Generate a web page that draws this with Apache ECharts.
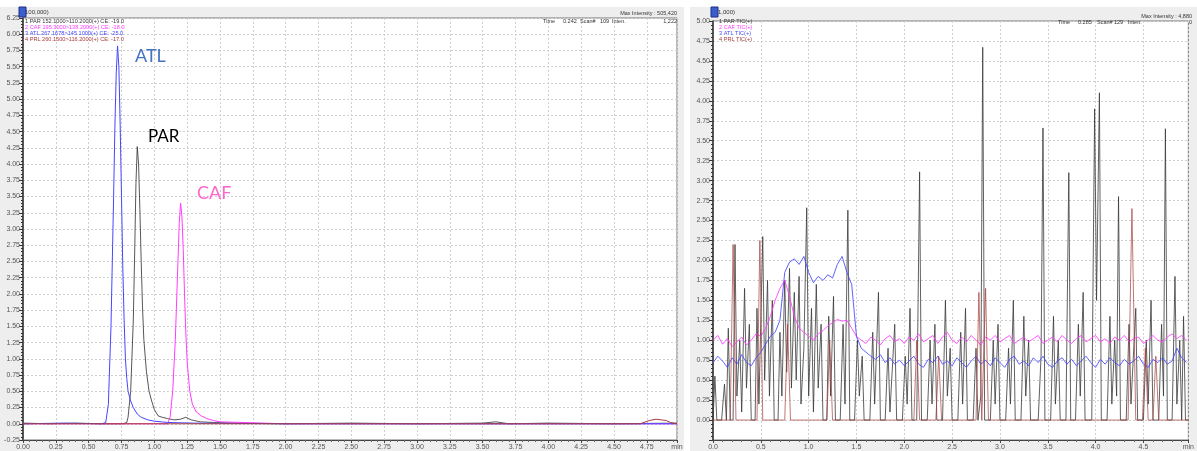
<!DOCTYPE html>
<html>
<head>
<meta charset="utf-8">
<script src="https://cdn.jsdelivr.net/npm/echarts@6/dist/echarts.min.js"></script>
<style>
  html, body { margin: 0; padding: 0; background: #fff; }
  #chart { width: 1197px; height: 451px; }
</style>
</head>
<body>
<div id="chart"></div>
<script>
// ---- MRM chromatogram (left), x100,000 ----
const mrmParT = [0, 0.2, 0.4, 0.6, 0.76, 0.79, 0.8, 0.82, 0.84, 0.85, 0.86, 0.87, 0.88, 0.89, 0.9, 0.91, 0.92, 0.94, 0.96, 0.98, 1.0, 1.03, 1.06, 1.1, 1.15, 1.2, 1.24, 1.28, 1.35, 1.45, 1.6, 2.0, 2.5, 3.0, 3.5, 3.6, 3.7, 4.0, 4.5, 4.98];
const mrmParV = [0.01, 0.0, 0.01, 0.0, 0.0, 0.02, 0.1, 0.5, 1.6, 2.6, 3.7, 4.27, 4.0, 3.3, 2.5, 1.8, 1.3, 0.8, 0.5, 0.35, 0.22, 0.12, 0.1, 0.08, 0.06, 0.07, 0.1, 0.06, 0.03, 0.02, 0.01, 0.0, 0.01, 0.0, 0.01, 0.03, 0.0, 0.01, 0.0, 0.01];
const mrmCafT = [0, 0.5, 1.0, 1.1, 1.12, 1.14, 1.16, 1.18, 1.19, 1.2, 1.21, 1.22, 1.23, 1.24, 1.25, 1.27, 1.29, 1.32, 1.36, 1.4, 1.45, 1.5, 2.0, 3.0, 4.0, 4.98];
const mrmCafV = [0.0, 0.0, 0.0, 0.0, 0.1, 0.5, 1.3, 2.5, 3.1, 3.4, 3.2, 2.7, 2.0, 1.4, 0.95, 0.5, 0.3, 0.18, 0.12, 0.08, 0.05, 0.03, 0.0, 0.0, 0.0, 0.0];
const mrmAtlT = [0, 0.3, 0.6, 0.63, 0.65, 0.67, 0.69, 0.7, 0.71, 0.72, 0.73, 0.74, 0.75, 0.76, 0.77, 0.78, 0.79, 0.8, 0.82, 0.84, 0.87, 0.9, 0.95, 1.0, 1.1, 1.3, 2.0, 3.0, 4.0, 4.98];
const mrmAtlV = [0.0, 0.01, 0.0, 0.02, 0.3, 1.5, 3.5, 4.6, 5.4, 5.82, 5.5, 4.6, 3.5, 2.4, 1.6, 1.0, 0.7, 0.5, 0.35, 0.25, 0.15, 0.1, 0.06, 0.04, 0.02, 0.01, 0.0, 0.0, 0.0, 0.0];
const mrmPrlT = [0, 0.5, 1.0, 2.0, 3.0, 4.0, 4.7, 4.77, 4.82, 4.86, 4.9, 4.93, 4.98];
const mrmPrlV = [0.0, 0.0, 0.0, 0.0, 0.0, 0.0, 0.0, 0.05, 0.07, 0.06, 0.05, 0.02, 0.0];

// ---- TIC traces (right), x1,000 ----
const ticParT = [0, 0.02, 0.04, 0.09, 0.12, 0.14, 0.16, 0.18, 0.21, 0.23, 0.25, 0.28, 0.3, 0.33, 0.35, 0.38, 0.4, 0.44, 0.46, 0.48, 0.52, 0.54, 0.57, 0.59, 0.62, 0.64, 0.68, 0.7, 0.72, 0.75, 0.77, 0.8, 0.82, 0.85, 0.87, 0.9, 0.92, 0.95, 0.98, 1.0, 1.03, 1.05, 1.08, 1.1, 1.13, 1.15, 1.19, 1.21, 1.23, 1.26, 1.28, 1.33, 1.36, 1.38, 1.41, 1.43, 1.48, 1.51, 1.53, 1.56, 1.58, 1.64, 1.67, 1.69, 1.73, 1.75, 1.8, 1.83, 1.85, 1.9, 1.92, 1.98, 2.01, 2.03, 2.06, 2.08, 2.13, 2.16, 2.18, 2.24, 2.27, 2.29, 2.32, 2.34, 2.4, 2.43, 2.45, 2.48, 2.5, 2.56, 2.59, 2.61, 2.64, 2.66, 2.72, 2.75, 2.77, 2.8, 2.82, 2.84, 2.9, 2.93, 2.95, 2.98, 3.0, 3.06, 3.09, 3.11, 3.14, 3.16, 3.22, 3.25, 3.27, 3.3, 3.32, 3.4, 3.43, 3.45, 3.47, 3.53, 3.56, 3.58, 3.61, 3.63, 3.69, 3.72, 3.74, 3.79, 3.82, 3.84, 3.87, 3.89, 3.96, 3.99, 4.01, 4.04, 4.06, 4.12, 4.15, 4.17, 4.2, 4.22, 4.24, 4.26, 4.32, 4.35, 4.37, 4.42, 4.44, 4.5, 4.53, 4.55, 4.58, 4.6, 4.66, 4.69, 4.71, 4.73, 4.75, 4.8, 4.83, 4.85, 4.88, 4.9, 4.92, 4.94, 4.97];
const ticParV = [0.0, 0.55, 0.0, 0.0, 0.45, 0.0, 1.15, 0.0, 0.0, 2.2, 0.3, 1.0, 0.1, 1.65, 0.4, 1.2, 0.0, 0.0, 1.4, 0.2, 2.3, 0.5, 1.75, 0.3, 1.5, 0.0, 0.0, 1.1, 0.3, 1.75, 0.6, 1.9, 0.4, 1.6, 0.5, 1.8, 0.2, 0.9, 2.66, 0.3, 1.4, 0.1, 1.7, 0.4, 1.2, 0.0, 0.0, 1.3, 0.3, 1.55, 0.0, 0.0, 1.2, 0.2, 2.63, 0.0, 0.0, 1.0, 0.3, 0.8, 0.0, 0.0, 1.1, 0.2, 1.6, 0.0, 0.0, 0.9, 0.1, 1.2, 0.0, 0.0, 0.8, 0.2, 1.4, 0.0, 0.0, 3.11, 0.0, 0.0, 1.0, 0.2, 1.2, 0.0, 0.0, 1.5, 0.3, 0.9, 0.0, 0.0, 1.1, 0.2, 1.4, 0.0, 0.0, 0.9, 0.0, 0.3, 4.67, 0.0, 0.0, 1.0, 0.2, 1.2, 0.0, 0.0, 0.9, 0.2, 1.5, 0.0, 0.0, 1.3, 0.3, 1.0, 0.0, 0.0, 0.8, 3.66, 0.0, 0.0, 1.3, 0.2, 1.0, 0.0, 0.0, 3.1, 0.0, 0.0, 1.2, 0.3, 1.6, 0.0, 0.0, 3.9, 1.5, 4.1, 0.0, 0.0, 1.3, 0.2, 1.0, 0.3, 2.8, 0.0, 0.0, 1.2, 0.2, 1.4, 0.0, 0.0, 1.0, 0.2, 1.5, 0.0, 0.0, 1.2, 0.3, 3.65, 0.0, 0.0, 1.8, 0.2, 1.0, 0.0, 1.3, 0.0, 0.0];
const ticGridT = [0, 0.05, 0.1, 0.15, 0.2, 0.25, 0.3, 0.35, 0.4, 0.45, 0.5, 0.55, 0.6, 0.65, 0.7, 0.75, 0.8, 0.85, 0.9, 0.95, 1.0, 1.05, 1.1, 1.15, 1.2, 1.25, 1.3, 1.35, 1.4, 1.45, 1.5, 1.55, 1.6, 1.65, 1.7, 1.75, 1.8, 1.85, 1.9, 1.95, 2.0, 2.05, 2.1, 2.15, 2.2, 2.25, 2.3, 2.35, 2.4, 2.45, 2.5, 2.55, 2.6, 2.65, 2.7, 2.75, 2.8, 2.85, 2.9, 2.95, 3.0, 3.05, 3.1, 3.15, 3.2, 3.25, 3.3, 3.35, 3.4, 3.45, 3.5, 3.55, 3.6, 3.65, 3.7, 3.75, 3.8, 3.85, 3.9, 3.95, 4.0, 4.05, 4.1, 4.15, 4.2, 4.25, 4.3, 4.35, 4.4, 4.45, 4.5, 4.55, 4.6, 4.65, 4.7, 4.75, 4.8, 4.85, 4.9, 4.95];
const ticCafV = [1.0, 1.06, 0.95, 1.02, 0.92, 0.98, 1.04, 0.94, 1.0, 1.08, 1.05, 1.15, 1.3, 1.5, 1.65, 1.75, 1.55, 1.3, 1.15, 1.1, 1.05, 1.0, 1.08, 1.12, 1.18, 1.22, 1.26, 1.24, 1.25, 1.15, 1.05, 1.0, 0.96, 1.04, 1.0, 0.94, 1.02, 1.06, 0.98, 1.02, 0.96, 1.04, 1.0, 1.08, 0.98, 1.02, 1.06, 0.96, 1.04, 1.1, 1.0, 0.96, 1.04, 0.98, 1.06, 1.0, 0.94, 1.04, 1.0, 1.06, 0.98, 1.02, 1.06, 0.96, 1.0, 1.04, 0.98, 1.02, 1.06, 0.96, 1.0, 1.04, 0.98, 1.06, 1.0, 0.96, 1.02, 1.06, 0.98, 1.02, 1.06, 0.98, 1.02, 0.96, 1.04, 1.0, 1.06, 0.98, 1.02, 1.04, 0.96, 1.0, 1.06, 1.0, 0.98, 1.04, 1.08, 1.02, 1.06, 1.0];
const ticAtlV = [0.72, 0.8, 0.74, 0.66, 0.78, 0.7, 0.82, 0.72, 0.68, 0.78, 0.85, 0.95, 1.05, 1.1, 1.25, 1.85, 1.98, 2.02, 1.95, 2.05, 1.85, 1.72, 1.8, 1.75, 1.82, 1.78, 1.95, 2.05, 1.85, 1.7, 1.05, 0.9, 0.85, 0.8, 0.76, 0.82, 0.72, 0.78, 0.7, 0.75, 0.68, 0.74, 0.8, 0.7, 0.66, 0.76, 0.72, 0.8, 0.7, 0.74, 0.68, 0.78, 0.72, 0.66, 0.74, 0.8, 0.7, 0.75, 0.68, 0.78, 0.72, 0.66, 0.76, 0.8, 0.7, 0.74, 0.68, 0.78, 0.72, 0.8, 0.7, 0.66, 0.74, 0.78, 0.7, 0.76, 0.68, 0.74, 0.8, 0.72, 0.66, 0.76, 0.7, 0.78, 0.72, 0.68, 0.76, 0.7, 0.74, 0.8, 0.7, 0.66, 0.76, 0.72, 0.78, 0.7, 0.74, 0.9, 0.78, 0.72];
const ticPrlT = [0, 0.18, 0.21, 0.24, 0.46, 0.49, 0.52, 0.75, 0.78, 0.81, 1.19, 1.22, 1.25, 2.1, 2.13, 2.16, 2.33, 2.36, 2.39, 2.75, 2.78, 2.81, 2.82, 2.85, 2.88, 4.34, 4.38, 4.42, 4.49, 4.52, 4.55, 4.6, 4.63, 4.66, 4.97];
const ticPrlV = [0, 0, 2.2, 0, 0, 2.25, 0, 0, 1.2, 0, 0, 1.0, 0, 0, 1.0, 0, 0, 0.8, 0, 0, 1.6, 0, 0, 1.65, 0, 0, 2.65, 0, 0, 0.9, 0, 0, 0.8, 0, 0];

const leftLegend = ['1 PAR 152.1000>110.2000(+) CE: -19.0', '2 CAF 195.3000>138.2000(+) CE: -18.0', '3 ATL 267.1678>145.1000(+) CE: -25.0', '4 PRL 260.1500>116.2000(+) CE: -17.0'];
const rightLegend = ['1 PAR TIC(+)', '2 CAF TIC(+)', '3 ATL TIC(+)', '4 PRL TIC(+)'];
const traceColors = ['#3a3a3a', '#ff3cff', '#4646ff', '#a83c3c'];

const zip = (t, v) => t.map((x, i) => [x, v[i]]);

const chart = echarts.init(document.getElementById('chart'), null, { renderer: 'canvas' });

const LEFT_XMAX = 4.98, RIGHT_XMAX = 4.97;
const labelStyle = { color: '#555', fontSize: 7, fontFamily: 'Liberation Sans' };
const gridLine = { show: true, lineStyle: { color: '#d0d0d0', type: [2, 2], width: 1 } };

function xAxisCfg(gridIndex, max, interval, decimals) {
  return {
    type: 'value', gridIndex, min: 0, max, interval,
    axisLine: { onZero: false, lineStyle: { color: '#444', width: 1 } },
    axisTick: { show: true, length: 3, lineStyle: { color: '#444' } },
    minorTick: { show: true, splitNumber: 5, length: 2, lineStyle: { color: '#666' } },
    axisLabel: {
      ...labelStyle, margin: 4,
      formatter: v => (Math.abs(v - max) < 1e-6 ? 'min' : v.toFixed(decimals))
    },
    splitLine: gridLine
  };
}
function yAxisCfg(gridIndex, min, max, showMin) {
  return {
    type: 'value', gridIndex, min, max, interval: 0.25,
    axisLine: { lineStyle: { color: '#333', width: 1.5 } },
    axisTick: { show: true, length: 4, lineStyle: { color: '#333' } },
    minorTick: { show: true, splitNumber: 5, length: 2, lineStyle: { color: '#333' } },
    axisLabel: {
      ...labelStyle, margin: 3,
      formatter: v => (!showMin && Math.abs(v - min) < 1e-6 ? '' : v.toFixed(2))
    },
    splitLine: gridLine
  };
}

function lineSeries(name, xi, data, color, width, opacity) {
  return {
    name, type: 'line', xAxisIndex: xi, yAxisIndex: xi, data,
    showSymbol: false, symbol: 'none', silent: true,
    lineStyle: { color, width: width || 1, opacity: opacity || 1 },
    z: 3
  };
}

function textEl(x, y, text, color, size, align, font) {
  return {
    type: 'text', x, y,
    style: { text, fill: color, fontSize: size, fontFamily: font || 'Liberation Sans', textAlign: align || 'left', textVerticalAlign: 'middle' },
    z: 20
  };
}

const graphics = [
  // panel backgrounds
  { type: 'rect', shape: { x: 0, y: 7, width: 684, height: 444 }, style: { fill: '#eeeeee' }, z: -10 },
  { type: 'rect', shape: { x: 690, y: 7, width: 507, height: 444 }, style: { fill: '#eeeeee' }, z: -10 },
  // scale markers
  textEl(20, 12, '(x100,000)', '#333', 6),
  { type: 'rect', shape: { x: 19, y: 7, width: 7, height: 10 }, style: { fill: '#3a5fcd', stroke: '#1b2f80', lineWidth: 1 }, z: 21 },
  textEl(713, 12, '(x1,000)', '#333', 6),
  { type: 'rect', shape: { x: 711, y: 7, width: 7, height: 10 }, style: { fill: '#3a5fcd', stroke: '#1b2f80', lineWidth: 1 }, z: 21 },
  // status text
  textEl(677, 13, 'Max Intensity : 505,420', '#333', 5.5, 'right'),
  textEl(543, 21, 'Time', '#333', 5.5),
  textEl(563, 21, '0.242', '#333', 5.5),
  textEl(580, 21, 'Scan#', '#333', 5.5),
  textEl(600, 21, '109', '#333', 5.5),
  textEl(612, 21, 'Inten.', '#333', 5.5),
  textEl(677, 21, '1,222', '#333', 5.5, 'right'),
  textEl(1192, 16, 'Max Intensity : 4,880', '#333', 5.5, 'right'),
  textEl(1058, 22, 'Time', '#333', 5.5),
  textEl(1078, 22, '0.285', '#333', 5.5),
  textEl(1097, 22, 'Scan#', '#333', 5.5),
  textEl(1114, 22, '129', '#333', 5.5),
  textEl(1128, 22, 'Inten.', '#333', 5.5),
  textEl(1192, 22, '0', '#333', 5.5, 'right'),
  // peak names
  textEl(135, 56, 'ATL', '#4472c4', 18, 'left', 'Lato'),
  textEl(148, 137, 'PAR', '#000000', 17, 'left', 'Lato'),
  textEl(197, 193, 'CAF', '#ff66cc', 18, 'left', 'Lato')
];
leftLegend.forEach((s, i) => graphics.push(textEl(25, 21 + i * 6, s, traceColors[i], 5.6)));
rightLegend.forEach((s, i) => graphics.push(textEl(719, 21 + i * 6, s, traceColors[i], 5.6)));

chart.setOption({
  animation: false,
  backgroundColor: '#ffffff',
  grid: [
    { left: 23, top: 18, width: 654, height: 422, show: true, backgroundColor: '#ffffff', borderColor: '#777', borderWidth: 1 },
    { left: 713, top: 21, width: 479, height: 420, show: true, backgroundColor: '#ffffff', borderColor: '#777', borderWidth: 1 }
  ],
  xAxis: [xAxisCfg(0, LEFT_XMAX, 0.25, 2), xAxisCfg(1, RIGHT_XMAX, 0.5, 1)],
  yAxis: [yAxisCfg(0, -0.25, 6.25, true), yAxisCfg(1, -0.25, 5.0, false)],
  series: [
    lineSeries('PAR', 0, zip(mrmParT, mrmParV), '#3a3a3a', 1, 0.85),
    lineSeries('CAF', 0, zip(mrmCafT, mrmCafV), '#ff3cff'),
    lineSeries('ATL', 0, zip(mrmAtlT, mrmAtlV), '#4646ff'),
    lineSeries('PRL', 0, zip(mrmPrlT, mrmPrlV), '#a83c3c'),
    lineSeries('PAR TIC', 1, zip(ticParT, ticParV), '#3a3a3a', 1, 0.8),
    lineSeries('CAF TIC', 1, zip(ticGridT, ticCafV), '#ff3cff', 1, 0.85),
    lineSeries('ATL TIC', 1, zip(ticGridT, ticAtlV), '#4646ff', 1, 0.85),
    lineSeries('PRL TIC', 1, zip(ticPrlT, ticPrlV), '#a83c3c', 1, 0.7)
  ],
  graphic: graphics
});
</script>
</body>
</html>
